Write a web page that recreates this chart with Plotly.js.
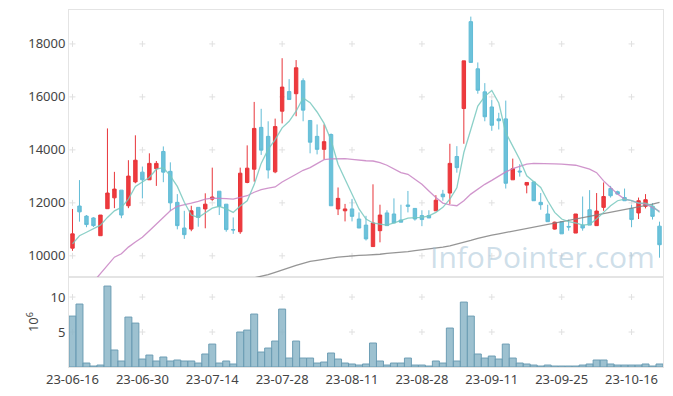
<!DOCTYPE html>
<html>
<head>
<meta charset="utf-8">
<script src="https://cdn.plot.ly/plotly-3.0.1.min.js"></script>
<style>html,body{margin:0;padding:0;background:#fff;}#chart{width:673px;height:396px;}</style>
</head>
<body>
<div id="chart"></div>
<script>
const dates = ["23-06-16","23-06-19","23-06-20","23-06-21","23-06-22","23-06-23","23-06-26","23-06-27","23-06-28","23-06-29",
"23-06-30","23-07-03","23-07-04","23-07-05","23-07-06","23-07-07","23-07-10","23-07-11","23-07-12","23-07-13",
"23-07-14","23-07-17","23-07-18","23-07-19","23-07-20","23-07-21","23-07-24","23-07-25","23-07-26","23-07-27",
"23-07-28","23-07-31","23-08-01","23-08-02","23-08-03","23-08-04","23-08-07","23-08-08","23-08-09","23-08-10",
"23-08-11","23-08-14","23-08-16","23-08-17","23-08-18","23-08-21","23-08-22","23-08-23","23-08-24","23-08-25",
"23-08-28","23-08-29","23-08-30","23-08-31","23-09-01","23-09-04","23-09-05","23-09-06","23-09-07","23-09-08",
"23-09-11","23-09-12","23-09-13","23-09-14","23-09-15","23-09-18","23-09-19","23-09-20","23-09-21","23-09-22",
"23-09-25","23-09-26","23-09-27","23-10-04","23-10-05","23-10-06","23-10-10","23-10-11","23-10-12","23-10-13",
"23-10-16","23-10-17","23-10-18","23-10-19","23-10-20"];

const openP = [10290,11880,11500,11430,10760,11780,12190,12480,11890,12790,
13160,12870,13290,13940,13190,12020,11050,11010,11830,11770,
12140,12440,11950,10990,10910,12770,13270,14850,14510,13170,
15460,16200,16120,16610,15110,14510,14020,14580,11770,11700,
11770,11390,11160,10350,10950,11620,11580,11350,11920,11790,
11520,11520,11700,12330,12370,13750,15560,18840,17060,16190,
15620,15170,15170,12870,13200,12670,12790,12020,11580,11010,
11290,11110,10860,11160,11740,11140,11830,12540,12420,12200,
11790,11620,11870,11870,11120];
const highP = [11770,12860,11540,11460,11540,14810,13170,12480,13610,14550,
13370,13870,13580,14130,13530,12330,11700,11890,11830,12360,
13330,12440,11950,11450,13330,14170,15810,15550,15080,15180,
17460,16670,17390,16700,15110,14960,14960,14620,12580,11960,
12150,11640,11510,12700,11930,11720,12170,11930,12450,11790,
11720,11720,12290,12490,14230,14140,17360,19030,17300,16520,
15880,15400,15860,13670,13460,12770,12790,12370,11930,11290,
11290,11370,11580,12240,12480,12370,12770,12640,12460,12540,
11920,12200,12330,11990,11290];
const lowP = [10190,11290,11080,11090,10760,11770,11800,11420,11800,12740,
12170,12870,12640,12780,11690,11000,10640,10930,11100,11040,
12080,11540,10910,10830,10830,12740,12800,13810,12920,13120,
15000,15900,15270,15080,13870,13830,13640,11890,11540,11300,
11300,11050,10580,10350,10510,11140,11240,11270,11640,11330,
11120,11430,11700,12080,11950,13140,14230,17280,16120,15080,
14720,14770,12540,12870,12990,12360,12080,11740,11290,10990,
10830,10950,10860,10950,11160,11140,11700,12200,12330,12080,
11080,11390,11790,11370,9930];
const closeP = [10830,11660,11180,11140,11540,12370,12520,11540,13010,13610,
12870,13490,13490,13160,12000,11140,10800,11700,11450,11950,
12220,11870,10990,10980,13120,13310,14810,13990,13240,14880,
16370,15900,17100,15500,14290,14020,14310,11890,12170,11770,
11490,11050,10640,11240,11540,11140,11240,11270,11870,11390,
11370,11430,12100,12230,13490,13330,17360,17300,16250,15250,
14930,15100,12740,13290,13170,12770,12080,11930,11290,11270,
10830,11090,11580,11050,11160,11690,12240,12270,12330,12080,
11370,12080,12120,11490,10420];

const ma5 = [10450,10760,10890,11010,11160,11450,11700,11830,12140,12620,
12790,12960,13270,13330,13020,12620,12020,11540,11450,11640,
11800,11870,11770,11640,11880,12080,12690,13490,14020,14390,
14830,15080,15460,15960,15780,15430,15000,14360,13460,12890,
12330,11770,11390,11240,11200,11160,11240,11330,11420,11440,
11450,11510,11640,11830,12140,12570,13900,14770,15650,16020,
16240,15770,14650,14140,13640,13020,12790,12580,12080,11640,
11390,11290,11240,11160,11190,11390,11640,11890,12080,12140,
12080,11990,11990,11890,11640];
const ma20 = [null,null,null,9020,9320,9640,9950,10080,10330,10520,
10700,10950,11200,11450,11700,11870,11920,11990,12060,12140,
12180,12180,12160,12140,12200,12270,12400,12500,12560,12600,
12790,12920,13080,13230,13330,13480,13630,13660,13670,13670,
13640,13610,13590,13580,13520,13420,13270,13140,13080,12890,
12700,12450,12200,11990,11920,11890,12080,12330,12520,12700,
12850,13020,13170,13290,13390,13460,13490,13490,13480,13470,
13460,13440,13420,13350,13270,13140,12830,12580,12330,12140,
12080,11990,11950,11830,11680];
const ma60 = [null,null,null,null,null,null,null,null,null,null,
null,null,null,null,null,null,null,null,null,null,
null,null,null,null,null,null,9170,9230,9290,9380,
9470,9570,9640,9720,9790,9830,9880,9910,9950,9980,
10000,10020,10030,10040,10060,10090,10110,10140,10160,10200,
10230,10260,10290,10330,10380,10440,10510,10580,10660,10730,
10780,10830,10880,10940,11000,11050,11090,11130,11190,11240,
11290,11330,11380,11430,11480,11530,11590,11630,11690,11740,
11790,11840,11900,11950,12020];

// volume in millions
const volume = [7.28,9.0,0.57,0.14,0.28,11.57,2.43,0.86,7.14,6.28,
1.14,1.71,0.86,1.43,0.86,1.0,0.86,0.86,0.57,1.86,
3.28,0.57,0.86,0.43,5.0,5.28,7.57,2.14,2.71,3.71,
8.28,1.28,3.71,1.28,1.28,0.57,0.71,2.0,1.14,0.57,
0.43,0.28,0.43,3.43,0.86,0.28,0.57,0.57,1.28,0.28,
0.28,0.14,0.86,0.57,5.57,0.86,9.28,7.28,1.86,1.28,
1.57,1.14,3.28,1.28,0.57,0.43,0.28,0.14,0.28,0.14,
0.14,0.14,0.14,0.28,0.43,1.0,1.0,0.43,0.28,0.28,
0.28,0.28,0.43,0.14,0.43];

const xTickLabels = ["23-06-16","23-06-30","23-07-14","23-07-28","23-08-11","23-08-28","23-09-11","23-09-25","23-10-16"];
const priceTicks = [10000,12000,14000,16000,18000];
const volTicks = [5,10];

const FONT = "Noto Sans, DejaVu Sans, sans-serif";
const gridCol = '#e0e0e0';
const frameCol = '#e4e4e4';

// grid crosses (beneath the marks) at tick intersections
const shapes = [];
function cross(xr, yr, xi, yv){
  const base = {type:'line',xref:xr,yref:yr,xsizemode:'pixel',ysizemode:'pixel',xanchor:xi,yanchor:yv,layer:'below',line:{color:gridCol,width:1}};
  shapes.push(Object.assign({},base,{x0:-3,x1:3,y0:0,y1:0}));
  shapes.push(Object.assign({},base,{x0:0,x1:0,y0:-3,y1:3}));
}
xTickLabels.forEach(d=>{
  const xi = dates.indexOf(d);
  priceTicks.forEach(v=>cross('x2','y',xi,v));
  volTicks.forEach(v=>cross('x','y2',xi,v));
});

const traces = [
 {type:'bar',x:dates,y:volume,xaxis:'x',yaxis:'y2',hoverinfo:'skip',
  marker:{color:'rgba(140,182,200,0.85)',line:{color:'rgba(105,155,178,0.95)',width:1}}},
 {type:'candlestick',x:dates,open:openP,high:highP,low:lowP,close:closeP,xaxis:'x2',yaxis:'y',
  hoverinfo:'skip',whiskerwidth:0,
  increasing:{line:{color:'#e8353a',width:1},fillcolor:'#ee3a3d'},
  decreasing:{line:{color:'#62bcd6',width:1},fillcolor:'#6cc2da'}},
 {type:'scatter',mode:'lines',x:dates,y:ma60,xaxis:'x2',yaxis:'y',hoverinfo:'skip',
  line:{color:'rgba(130,130,130,0.85)',width:1.3}},
 {type:'scatter',mode:'lines',x:dates,y:ma20,xaxis:'x2',yaxis:'y',hoverinfo:'skip',
  line:{color:'rgba(200,130,195,0.85)',width:1.3}},
 {type:'scatter',mode:'lines',x:dates,y:ma5,xaxis:'x2',yaxis:'y',hoverinfo:'skip',
  line:{color:'rgba(120,200,190,0.85)',width:1.3}}
];

const tickFont = {family:FONT,size:13,color:'#444'};
const layout = {
 width:673,height:396,
 margin:{l:69,r:10,t:10,b:29},
 paper_bgcolor:'#fff',plot_bgcolor:'#fff',
 showlegend:false,bargap:0,
 font:{family:FONT,color:'#444'},
 shapes:shapes,
 xaxis:{type:'category',categoryorder:'array',categoryarray:dates,range:[-0.5,84.5],anchor:'y2',
  tickmode:'array',tickvals:xTickLabels,ticktext:xTickLabels,
  showgrid:false,zeroline:false,showline:true,mirror:true,linecolor:frameCol,ticks:'',tickfont:tickFont,
  rangeslider:{visible:false}},
 xaxis2:{type:'category',categoryorder:'array',categoryarray:dates,matches:'x',anchor:'y',showticklabels:false,
  showgrid:false,zeroline:false,showline:true,mirror:true,linecolor:frameCol,ticks:'',rangeslider:{visible:false}},
 yaxis:{domain:[0.252,1],anchor:'x2',range:[9200,19280],tickmode:'array',tickvals:priceTicks,tickformat:'d',
  showgrid:false,zeroline:false,showline:true,mirror:true,linecolor:frameCol,ticks:'',tickfont:tickFont},
 yaxis2:{domain:[0,0.252],anchor:'x',range:[0,12.86],tickmode:'array',tickvals:volTicks,
  showgrid:false,zeroline:false,showline:true,mirror:true,linecolor:frameCol,ticks:'',tickfont:tickFont,
  title:{text:'10<sup>6</sup>',font:{family:FONT,size:13,color:'#444'},standoff:8}},
 annotations:[{text:'InfoPointer.com',xref:'paper',yref:'paper',x:0.99,y:0.31,xanchor:'right',yanchor:'middle',
  showarrow:false,font:{family:'Open Sans, Noto Sans, sans-serif',size:30,color:'rgba(165,195,215,0.55)'}}]
};

Plotly.newPlot('chart',traces,layout,{staticPlot:true,displayModeBar:false});
</script>
</body>
</html>
